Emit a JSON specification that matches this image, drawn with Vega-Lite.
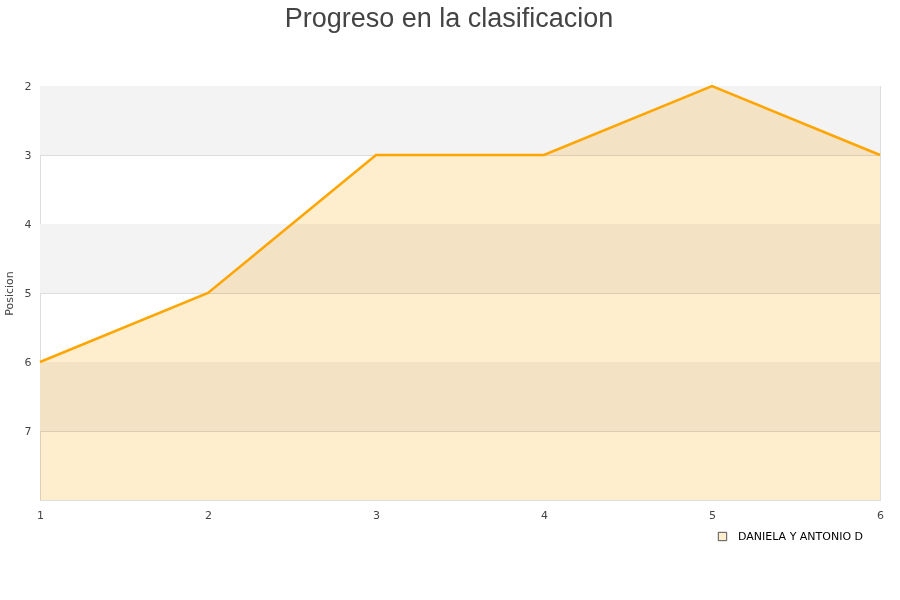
{
  "$schema": "https://vega.github.io/schema/vega-lite/v6.json",
  "autosize": "none",
  "width": 840,
  "height": 414,
  "padding": {"left": 40, "top": 86, "right": 20, "bottom": 100},
  "background": "white",
  "title": {
    "text": "Progreso en la clasificacion",
    "font": "Liberation Sans",
    "fontSize": 27,
    "fontWeight": "normal",
    "color": "#444444",
    "anchor": "middle",
    "dx": -11,
    "offset": 47
  },
  "config": {
    "view": {"stroke": "#dddddd", "strokeWidth": 1},
    "axis": {
      "labelFont": "DejaVu Sans",
      "labelFontSize": 11,
      "labelColor": "#444444",
      "titleFont": "DejaVu Sans",
      "titleFontSize": 11,
      "titleFontWeight": "normal",
      "titleColor": "#444444",
      "domain": false,
      "ticks": false,
      "gridColor": "#dddddd",
      "gridWidth": 1
    }
  },
  "datasets": {
    "bands": [{"from": 2, "to": 3}, {"from": 4, "to": 5}, {"from": 6, "to": 7}],
    "progreso": [
      {"jornada": 1, "posicion": 6, "equipo": "DANIELA Y ANTONIO D"},
      {"jornada": 2, "posicion": 5, "equipo": "DANIELA Y ANTONIO D"},
      {"jornada": 3, "posicion": 3, "equipo": "DANIELA Y ANTONIO D"},
      {"jornada": 4, "posicion": 3, "equipo": "DANIELA Y ANTONIO D"},
      {"jornada": 5, "posicion": 2, "equipo": "DANIELA Y ANTONIO D"},
      {"jornada": 6, "posicion": 3, "equipo": "DANIELA Y ANTONIO D"}
    ]
  },
  "layer": [
    {
      "data": {"name": "bands"},
      "mark": {"type": "rect", "color": "#f3f3f3"},
      "encoding": {
        "y": {"field": "from", "type": "quantitative", "scale": {"domain": [2, 8], "reverse": true, "zero": false, "nice": false},
          "axis": {"values": [2, 3, 4, 5, 6, 7], "format": "d", "title": "Posicion", "labelPadding": 9, "titlePadding": 10, "grid": true}},
        "y2": {"field": "to"}
      }
    },
    {
      "data": {"name": "progreso"},
      "mark": {"type": "area", "fillOpacity": 1, "blend": "multiply", "line": false},
      "encoding": {
        "x": {"field": "jornada", "type": "quantitative", "scale": {"domain": [1, 6], "nice": false, "zero": false},
          "axis": {"values": [1, 2, 3, 4, 5, 6], "format": "d", "title": null, "grid": false, "labelPadding": 9, "labelFlush": false}},
        "y": {"field": "posicion", "type": "quantitative"},
        "y2": {"datum": 8},
        "color": {
          "field": "equipo", "type": "nominal",
          "scale": {"range": ["#ffeecd"]},
          "legend": {
            "title": null,
            "orient": "none",
            "legendX": 677,
            "legendY": 445,
            "symbolType": "square",
            "symbolSize": 70,
            "symbolStrokeColor": "#555555",
            "symbolStrokeWidth": 1,
            "labelFont": "DejaVu Sans",
            "labelFontSize": 11,
            "labelColor": "#000000",
            "labelOffset": 10,
            "labelLimit": 300
          }
        }
      }
    },
    {
      "data": {"name": "progreso"},
      "mark": {"type": "line", "color": "#ffa500", "strokeWidth": 2.5},
      "encoding": {
        "x": {"field": "jornada", "type": "quantitative"},
        "y": {"field": "posicion", "type": "quantitative"}
      }
    }
  ]
}
